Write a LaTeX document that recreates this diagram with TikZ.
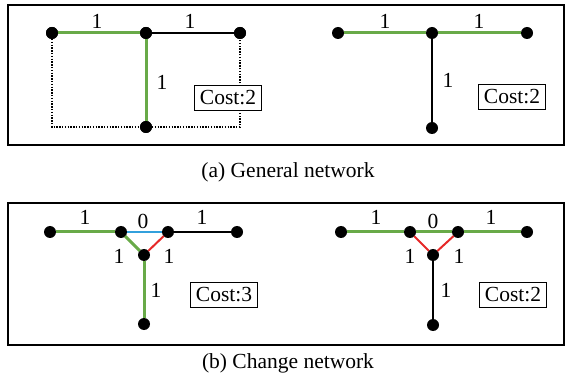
\documentclass[tikz,border=0pt]{standalone}
\usepackage{fontspec}
\setmainfont{Liberation Serif}
\definecolor{egreen}{RGB}{104,170,72}
\definecolor{eblue}{RGB}{50,160,220}
\definecolor{ered}{RGB}{230,40,40}
\tikzset{
  dot/.style={circle,fill=black,minimum size=12pt,inner sep=0pt,outer sep=0pt},
  lbl/.style={font=\fontsize{21.5}{25}\selectfont,inner sep=0pt},
  costbox/.style={draw,fill=white,line width=0.8pt,font=\fontsize{21.5}{25}\selectfont,inner sep=1pt,minimum width=67pt,minimum height=25pt},
  frame/.style={line width=1.8pt},
  ge/.style={egreen,line width=3pt},
  be/.style={black,line width=1.3pt},
  re/.style={ered,line width=2pt},
  ble/.style={eblue,line width=2pt},
  dt/.style={black,line width=1.4pt,dash pattern=on 1.4pt off 1.4pt},
  captext/.style={font=\fontsize{21.5}{25}\selectfont,inner sep=0pt}
}
\begin{document}
\begin{tikzpicture}[x=1pt,y=-1pt]
\useasboundingbox (0,0) rectangle (565,382);
% frames
\draw[frame] (8,5) rectangle (564,145);
\draw[frame] (8,203) rectangle (564,345);
% ---- top left
\node[dot] (a1) at (52,33) {};
\node[dot] (a2) at (146,33) {};
\node[dot] (a3) at (240,33) {};
\node[dot] (a4) at (146,127) {};
\draw[dt] (a1) |- (a4) -| (a3);
\draw[be] (a2) -- (a3);
\draw[ge] (a1) -- (a2);
\draw[ge] (a2) -- (a4);
\node[costbox] (c1) at (228,98) {Cost:2};
\node[lbl] (la1) at (97,21) {1};
\node[lbl] (la2) at (190,21) {1};
\node[lbl] (la3) at (162,82) {1};
\node[dot] at (a1) {};\node[dot] at (a2) {};\node[dot] at (a3) {};\node[dot] at (a4) {};
% ---- top right
\node[dot] (b1) at (338,33) {};
\node[dot] (b2) at (432,33) {};
\node[dot] (b3) at (527,33) {};
\node[dot] (b4) at (432,128) {};
\draw[ge] (b1) -- (b2);
\draw[ge] (b2) -- (b3);
\draw[be] (b2) -- (b4);
\node[costbox] (c2) at (512,97) {Cost:2};
\node[lbl] (lb1) at (385,21) {1};
\node[lbl] (lb2) at (479,21) {1};
\node[lbl] (lb3) at (448,80) {1};
% caption a
\node[captext] (capa) at (288,172) {(a) General network};
% ---- bottom left
\node[dot] (d1) at (50,232) {};
\node[dot] (d2) at (121,232) {};
\node[dot] (d3) at (168,232) {};
\node[dot] (d4) at (237,232) {};
\node[dot] (d5) at (144,255) {};
\node[dot] (d6) at (144,324) {};
\draw[ge] (d1) -- (d2);
\draw[ge] (d2) -- (d5);
\draw[ble] (d2) -- (d3);
\draw[re] (d3) -- (d5);
\draw[be] (d3) -- (d4);
\draw[ge] (d5) -- (d6);
\node[costbox] (c3) at (224,295) {Cost:3};
\node[lbl] (ld1) at (85,217) {1};
\node[lbl] (ld2) at (143,221) {0};
\node[lbl] (ld3) at (202,217) {1};
\node[lbl] (ld4) at (119,256) {1};
\node[lbl] (ld5) at (169,256) {1};
\node[lbl] (ld6) at (156,290) {1};
% ---- bottom right
\node[dot] (e1) at (341,232) {};
\node[dot] (e2) at (410,232) {};
\node[dot] (e3) at (458,232) {};
\node[dot] (e4) at (527,232) {};
\node[dot] (e5) at (433,255) {};
\node[dot] (e6) at (433,325) {};
\draw[ge] (e1) -- (e2);
\draw[ge] (e2) -- (e3);
\draw[ge] (e3) -- (e4);
\draw[re] (e2) -- (e5);
\draw[re] (e3) -- (e5);
\draw[be] (e5) -- (e6);
\node[costbox] (c4) at (513,295) {Cost:2};
\node[lbl] (le1) at (376,217) {1};
\node[lbl] (le2) at (433,221) {0};
\node[lbl] (le3) at (491,217) {1};
\node[lbl] (le4) at (410,256) {1};
\node[lbl] (le5) at (459,256) {1};
\node[lbl] (le6) at (446,290) {1};
% caption b
\node[captext] (capb) at (288,363) {(b) Change network};
\end{tikzpicture}
\end{document}
